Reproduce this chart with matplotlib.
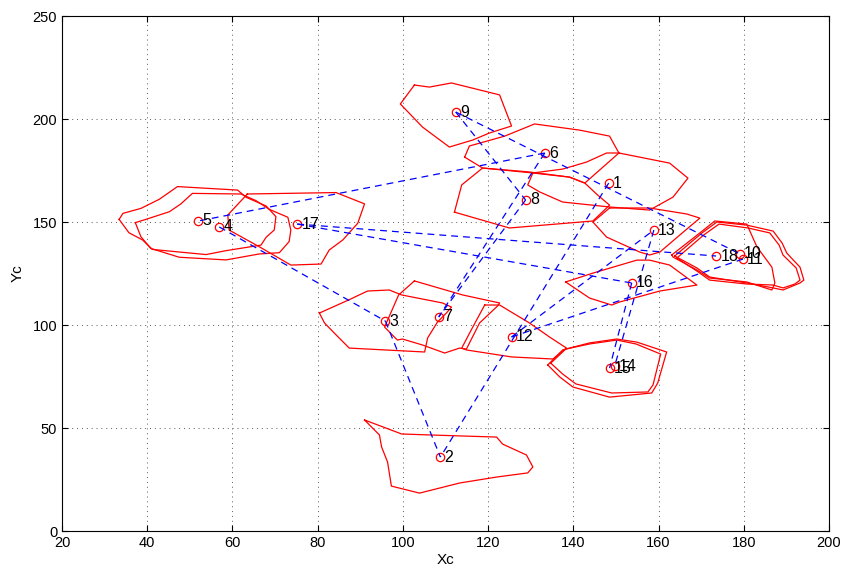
import numpy as np
import matplotlib
matplotlib.use("Agg")
import matplotlib.pyplot as plt

plt.rcParams['font.family'] = ['Liberation Sans', 'DejaVu Sans']

# centroids (Xc, Yc), numbered 1..18
xc = [148.3, 108.8, 95.9, 56.9, 52.0, 133.3, 108.4, 128.8, 112.4,
      179.1, 179.8, 125.5, 158.9, 149.7, 148.5, 153.7, 75.2, 173.5]
yc = [168.9, 35.9, 101.9, 147.6, 150.5, 183.5, 103.9, 160.7, 203.4,
      134.5, 132.0, 94.2, 146.1, 80.1, 79.1, 120.4, 149.0, 133.5]

# links between centroids (1-based)
links = [(9, 8), (9, 10), (6, 5), (6, 7), (8, 7), (1, 2), (3, 2), (4, 3),
         (12, 13), (12, 11), (13, 14), (16, 15), (17, 16), (17, 18)]

# cell outlines
px1 = [150.7, 162.6, 166.9, 163.4, 157.9, 148.5, 137.5, 132.1, 129.3, 130.5, 139.1, 142.7]
py1 = [183.5, 178.6, 171.3, 162.1, 155.8, 157.3, 159.7, 164.6, 168.0, 173.8, 171.8, 168.9]
px2 = [91.0, 99.7, 106.7, 122.0, 123.4, 129.0, 130.5, 129.3, 122.0, 113.3, 103.9, 97.3, 96.4, 95.0, 94.5]
py2 = [53.9, 47.1, 46.6, 45.6, 42.2, 36.9, 31.1, 28.2, 26.2, 23.3, 18.4, 21.8, 33.5, 40.8, 46.6]
px3 = [80.4, 87.2, 91.7, 96.8, 99.7, 109.3, 111.4, 110.2, 108.1, 105.8, 105.1, 87.4, 83.9, 81.6]
py3 = [105.8, 112.1, 116.5, 117.0, 114.6, 110.7, 108.7, 105.8, 101.4, 93.7, 86.9, 88.8, 96.1, 101.0]
px4 = [37.2, 39.7, 45.2, 47.9, 50.6, 62.0, 65.5, 68.6, 73.0, 73.7, 73.3, 71.0, 66.3, 58.5, 47.5, 40.8, 38.5]
py4 = [149.7, 151.3, 155.0, 158.8, 163.9, 163.6, 160.4, 156.2, 152.3, 146.1, 140.5, 135.1, 134.5, 131.6, 132.9, 137.2, 142.9]
px5 = [33.4, 34.3, 38.5, 42.8, 47.1, 61.2, 63.2, 67.9, 70.2, 69.8, 67.9, 66.7, 58.5, 53.8, 46.7, 41.2, 38.9, 35.7]
py5 = [151.3, 154.2, 156.6, 161.0, 167.2, 165.5, 162.0, 157.8, 152.6, 146.1, 142.6, 138.8, 136.1, 134.2, 135.6, 136.7, 141.3, 144.8]
px6 = [114.5, 115.6, 123.9, 130.9, 141.5, 148.5, 150.7, 147.8, 143.1, 137.5, 130.5, 118.7]
py6 = [181.5, 186.9, 191.7, 197.6, 194.6, 191.7, 183.5, 183.5, 179.1, 175.7, 173.8, 176.2]
px7 = [102.7, 114.0, 122.7, 122.2, 118.0, 114.9, 113.3, 109.8, 104.6, 99.9, 98.7, 95.7, 99.0]
py7 = [121.4, 114.6, 110.7, 109.2, 101.0, 88.3, 88.8, 86.4, 90.3, 93.2, 92.7, 99.0, 114.6]
px8 = [112.1, 113.8, 118.7, 129.7, 139.1, 142.7, 145.7, 148.5, 144.6, 125.0]
py8 = [154.8, 168.0, 176.2, 174.3, 171.8, 168.9, 163.1, 158.2, 150.5, 147.1]
px9 = [102.7, 106.2, 111.4, 122.7, 125.5, 120.3, 116.4, 110.9, 104.6, 99.4]
py9 = [216.5, 215.5, 217.5, 211.7, 196.6, 193.2, 189.8, 186.4, 196.1, 207.3]
px10 = [163.8, 170.2, 173.7, 180.7, 186.9, 189.0, 190.1, 193.2, 194.1, 193.2, 189.2, 186.9, 180.7, 172.0, 169.0]
py10 = [133.5, 144.7, 150.0, 148.5, 145.6, 139.8, 134.9, 128.1, 121.8, 120.4, 117.0, 118.0, 120.4, 123.3, 127.7]
px11 = [164.3, 170.6, 174.2, 181.0, 186.1, 188.3, 189.2, 192.3, 193.2, 192.0, 189.2, 186.9, 180.7, 172.0, 169.0]
py11 = [132.5, 143.7, 149.0, 147.1, 144.7, 138.8, 134.0, 127.7, 121.8, 119.9, 118.0, 119.4, 119.9, 121.8, 126.2]
px12 = [119.2, 122.7, 129.7, 134.4, 138.4, 135.2, 125.5, 114.9, 113.8, 116.4]
py12 = [109.7, 109.7, 101.0, 94.2, 88.8, 83.5, 84.5, 87.9, 88.8, 99.0]
px13 = [148.5, 157.9, 166.6, 169.7, 165.0, 160.3, 157.9, 155.6, 150.9, 147.8, 144.6]
py13 = [156.8, 156.8, 153.9, 151.9, 143.7, 135.4, 134.0, 135.4, 139.8, 142.7, 150.0]
px14 = [134.0, 137.5, 139.1, 143.8, 150.2, 154.9, 161.9, 159.8, 158.4, 148.5, 139.9, 136.8]
py14 = [80.6, 87.9, 88.8, 91.3, 93.2, 91.7, 86.9, 71.8, 67.0, 65.0, 69.9, 74.8]
px15 = [134.7, 138.2, 143.8, 150.2, 154.7, 160.5, 158.7, 157.5, 149.0, 140.6, 137.5]
py15 = [81.5, 88.3, 90.8, 92.7, 90.8, 85.9, 70.9, 67.5, 67.0, 71.4, 76.2]
px16 = [138.2, 144.6, 154.9, 157.9, 162.6, 169.0, 160.3, 150.9, 149.0, 143.8]
py16 = [120.9, 125.2, 131.5, 131.5, 129.1, 119.4, 116.5, 111.2, 109.7, 113.1]
px17 = [63.5, 84.3, 91.0, 89.4, 85.9, 82.7, 80.8, 73.7, 66.3, 59.2, 58.9]
py17 = [163.6, 164.3, 158.8, 149.4, 141.3, 136.4, 129.6, 129.1, 138.0, 146.1, 153.4]
px18 = [163.1, 169.7, 173.2, 180.7, 183.1, 186.6, 187.3, 186.6, 180.7, 172.0, 169.0, 163.4]
py18 = [134.0, 144.7, 150.5, 149.0, 137.9, 128.1, 120.4, 117.0, 120.9, 122.8, 126.7, 133.0]

outlines_x = [px1, px2, px3, px4, px5, px6, px7, px8, px9, px10, px11, px12,
              px13, px14, px15, px16, px17, px18]
outlines_y = [py1, py2, py3, py4, py5, py6, py7, py8, py9, py10, py11, py12,
              py13, py14, py15, py16, py17, py18]

fig = plt.figure(figsize=(8.44, 5.70), dpi=100)
ax = fig.add_axes([0.0735, 0.0684, 0.9087, 0.9035])

for ox, oy in zip(outlines_x, outlines_y):
    ax.plot(ox + [ox[0]], oy + [oy[0]], '-', color='red', linewidth=0.9)

ax.plot(xc, yc, 'o', markerfacecolor='none', markeredgecolor='red',
        markersize=6, markeredgewidth=0.9)

for a, b in links:
    ax.plot([xc[a - 1], xc[b - 1]], [yc[a - 1], yc[b - 1]], '--', color='blue',
            linewidth=0.9, dashes=(5.5, 4))

for i in range(len(xc)):
    ax.text(xc[i] + 1.0, yc[i], str(i + 1), fontsize=11.5, ha='left', va='center')

ax.set_xlim(20, 200)
ax.set_ylim(0, 250)
ax.set_xticks(np.arange(20, 201, 20))
ax.set_yticks(np.arange(0, 251, 50))
ax.tick_params(direction='in', labelsize=10.5, top=True, right=True, length=4)
ax.grid(True, linestyle=(0, (1, 4)), color='0.35', linewidth=0.7)
ax.set_xlabel('Xc', fontsize=11, labelpad=2)
ax.set_ylabel('Yc', fontsize=11, labelpad=6)

fig.savefig('out.png', dpi=100)
